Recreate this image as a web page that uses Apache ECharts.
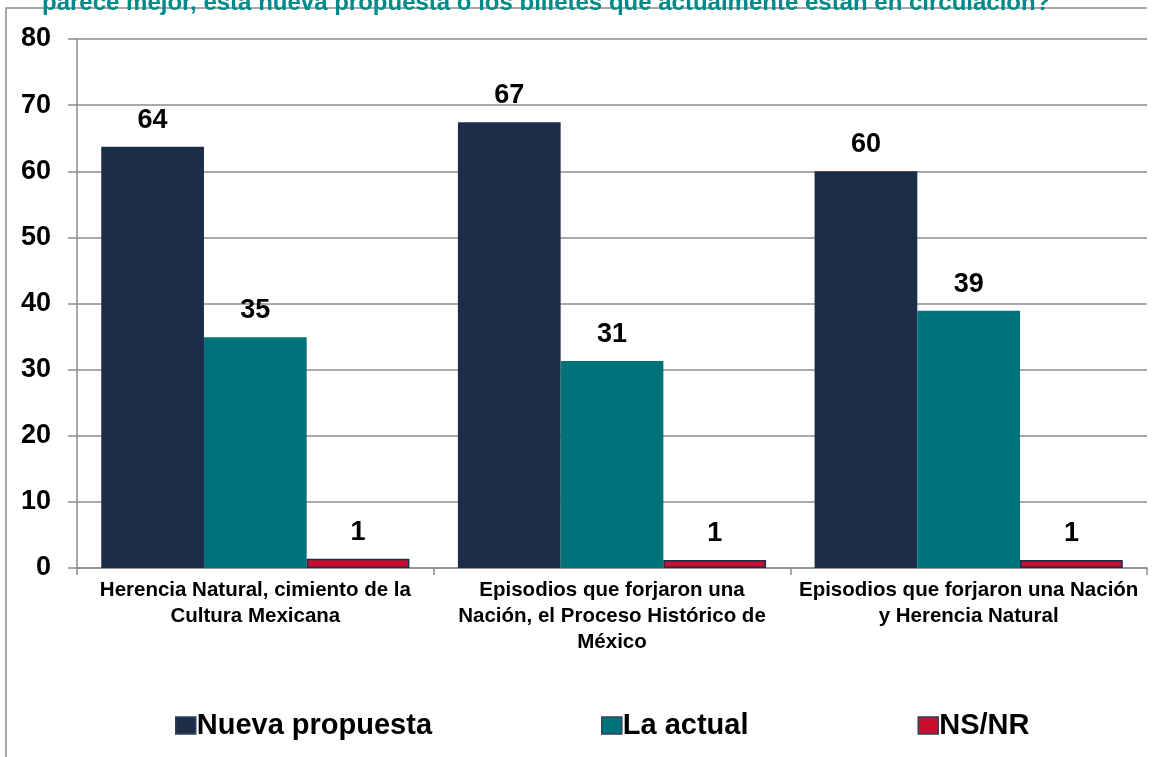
<!DOCTYPE html>
<html>
<head>
<meta charset="utf-8">
<script src="https://cdn.jsdelivr.net/npm/echarts@6/dist/echarts.min.js"></script>
<style>
  html, body { margin: 0; padding: 0; background: #fff; }
  #chart { width: 1175px; height: 757px; }
</style>
</head>
<body>
<div id="chart"></div>
<script>
// categorias y valores
const categories = [
  'Herencia Natural, cimiento de la\nCultura Mexicana',
  'Episodios que forjaron una\nNación, el Proceso Histórico de\nMéxico',
  'Episodios que forjaron una Nación\ny Herencia Natural'
];
const seriesNames = ['Nueva propuesta', 'La actual', 'NS/NR'];
const nuevaPropuesta = [63.7, 67.4, 60.0];
const laActual = [34.9, 31.3, 38.9];
const nsnr = [1.4, 1.2, 1.2];
const yTicks = { min: 0, max: 80, interval: 10 };

const colors = ['#1C2D4A', '#00737A', '#C8102E'];
const font = 'Liberation Sans, Arial, sans-serif';

const chart = echarts.init(document.getElementById('chart'));

function barSeries(name, data, color) {
  return {
    name: name,
    type: 'bar',
    data: data,
    barGap: '0%',
    barCategoryGap: '13.6%',
    itemStyle: {
      color: color,
      borderColor: '#1C2D4A',
      borderWidth: name === 'NS/NR' ? 1.5 : 0
    },
    label: {
      show: true,
      position: 'top',
      distance: 13,
      color: '#000',
      fontFamily: font,
      fontWeight: 'bold',
      fontSize: 27,
      formatter: (p) => Math.round(p.value)
    }
  };
}

const option = {
  animation: false,
  backgroundColor: '#fff',
  title: {
    text: 'parece mejor, esta nueva propuesta o los billetes que actualmente están en circulación?',
    left: 37,
    top: -14,
    textStyle: {
      color: '#008A8A',
      fontFamily: font,
      fontWeight: 'bold',
      fontSize: 24
    }
  },
  graphic: [{
    type: 'polyline',
    shape: { points: [[6, 760], [6, 8], [1147, 8]] },
    style: { stroke: '#8C8C8C', lineWidth: 1.5, fill: null }
  }],
  grid: {
    left: 77,
    right: 28,
    top: 39,
    bottom: 189
  },
  legend: {
    bottom: 12,
    left: 170,
    itemGap: 169,
    itemWidth: 20,
    itemHeight: 17,
    icon: 'rect',
    itemStyle: { borderColor: '#34405A', borderWidth: 1.5 },
    textStyle: {
      color: '#000',
      fontFamily: font,
      fontWeight: 'bold',
      fontSize: 29,
      padding: [0, 0, 0, -4]
    },
    data: seriesNames
  },
  xAxis: {
    type: 'category',
    data: categories,
    axisLine: { lineStyle: { color: '#8C8C8C', width: 1.5 } },
    axisTick: { show: true, length: 7, lineStyle: { color: '#8C8C8C', width: 1.5 } },
    axisLabel: {
      color: '#000',
      fontFamily: font,
      fontWeight: 'bold',
      fontSize: 20.5,
      lineHeight: 26,
      margin: 9,
      interval: 0
    }
  },
  yAxis: {
    type: 'value',
    min: yTicks.min,
    max: yTicks.max,
    interval: yTicks.interval,
    axisLine: { show: true, lineStyle: { color: '#8C8C8C', width: 1.5 } },
    axisTick: { show: true, length: 9, lineStyle: { color: '#8C8C8C', width: 1.5 } },
    splitLine: { lineStyle: { color: '#8C8C8C', width: 1.5 } },
    axisLabel: {
      color: '#000',
      fontFamily: font,
      fontWeight: 'bold',
      fontSize: 27,
      margin: 26
    }
  },
  series: [
    barSeries(seriesNames[0], nuevaPropuesta, colors[0]),
    barSeries(seriesNames[1], laActual, colors[1]),
    barSeries(seriesNames[2], nsnr, colors[2])
  ]
};

chart.setOption(option);
</script>
</body>
</html>
